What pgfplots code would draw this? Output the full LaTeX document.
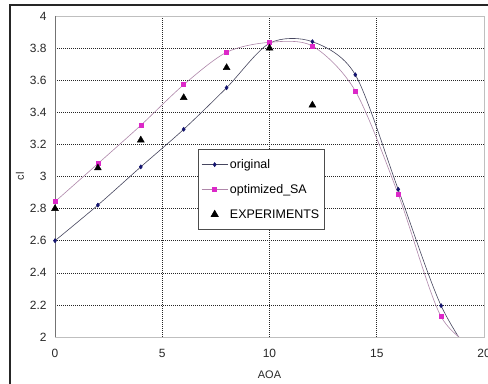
\documentclass[border=0pt]{standalone}
\usepackage{fontspec}
\setmainfont{Liberation Sans}
\usepackage{pgfplots}
\pgfplotsset{compat=1.18}
\pgfplotsset{markleg/.style={legend image code/.code={\draw[mark repeat=1,##1] plot coordinates {(13bp,0bp)};}}}
\definecolor{orig}{RGB}{20,20,110}
\definecolor{origline}{RGB}{70,70,95}
\definecolor{opt}{RGB}{220,40,200}
\definecolor{optline}{RGB}{175,135,170}
\definecolor{txt}{RGB}{40,40,40}
\begin{document}
\begin{tikzpicture}[x=1bp,y=1bp]
\useasboundingbox (-55bp,-47bp) rectangle (433bp,337bp);
\fill[white] (-55bp,-47bp) rectangle (433bp,337bp);
\draw[black!85, line width=1.4bp] (-45bp,-60bp) -- (-45bp,332bp) -- (450bp,332bp);
\begin{axis}[
  at={(0,0)}, anchor=origin,
  scale only axis, width=429bp, height=321bp,
  xmin=0, xmax=20, ymin=2, ymax=4,
  xtick={0,5,10,15,20}, ytick={2,2.2,2.4,2.6,2.8,3,3.2,3.4,3.6,3.8,4},
  major tick length=0pt,
  grid=major,
  major grid style={black!85, dash pattern=on 0.9bp off 1.1bp, line width=0.55bp},
  axis line style={draw=black!25, line width=0.6bp},
  /pgf/number format/assume math mode=true,
  ticklabel style={font=\fontsize{12}{14}\selectfont, text=txt},
  xticklabel style={yshift=-9bp},
  yticklabel style={xshift=-5bp},
  xlabel={AOA}, ylabel={cl},
  label style={font=\fontsize{11}{13}\selectfont, text=txt},
  xlabel style={yshift=-6bp},
  ylabel style={yshift=-1bp},
  legend style={at={(0.3333,0.5857)}, anchor=north west, draw=black!70, line width=0.8bp,
    font=\fontsize{12.5}{14}\selectfont, inner xsep=3bp, inner ysep=8bp, row sep=10.5bp,
    cells={anchor=west}},
  legend image code/.code={
    \draw[#1] (0bp,0bp) -- (26bp,0bp);
    \draw[#1, mark repeat=1] plot coordinates {(13bp,0bp)};
  },
  clip=true,
]
\addplot[origline, line width=0.6bp, smooth, mark=diamond*, mark size=2bp,
  mark options={draw=orig, fill=orig}] coordinates {
  (0,2.60) (2,2.822) (4,3.06) (6,3.294) (8,3.553) (10,3.83) (12,3.84) (14,3.634) (16,2.92) (18,2.195) (20,1.76)};
\addlegendentry{original}
\addplot[optline, line width=0.6bp, smooth, mark=square*, mark size=2bp,
  mark options={draw=opt, fill=opt}] coordinates {
  (0,2.843) (2,3.08) (4,3.319) (6,3.572) (8,3.774) (10,3.836) (12,3.813) (14,3.533) (16,2.89) (18,2.127) (20,1.9)};
\addlegendentry{optimized\_SA}
\addplot[only marks, mark=triangle*, mark size=4bp, black, markleg] coordinates {
  (0,2.80) (2,3.053) (4,3.227) (6,3.491) (8,3.678) (10,3.80) (12,3.445)};
\addlegendentry{EXPERIMENTS}
\draw[black!55, line width=0.9bp] (axis cs:0,4) -- (axis cs:0,2) -- (axis cs:20,2);
\end{axis}
\end{tikzpicture}
\end{document}
